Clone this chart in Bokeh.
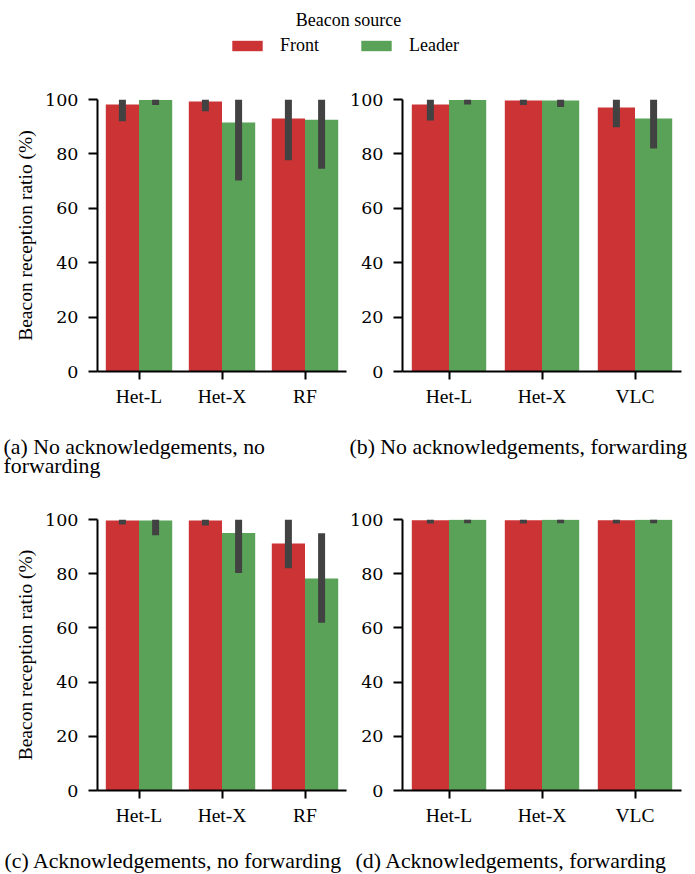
from bokeh.plotting import figure
from bokeh.models import FactorRange, Range1d, FixedTicker, Label, Legend, LegendItem, ColumnDataSource
from bokeh.transform import dodge
from bokeh.layouts import column, row
from bokeh.embed import file_html
from bokeh.resources import INLINE

SERIF = "Liberation Serif"
RED = "#cb3335"
GREEN = "#59a257"
ERR = "#424242"

# ---- data ----
cats_rf = ["Het-L", "Het-X", "RF"]
cats_vlc = ["Het-L", "Het-X", "VLC"]

# (a) No acknowledgements, no forwarding
a_front = [98.2, 99.3, 93.0]
a_front_lo = [92.0, 95.7, 77.7]
a_front_hi = [100.0, 100.0, 100.0]
a_leader = [99.8, 91.5, 92.6]
a_leader_lo = [98.0, 70.2, 74.5]
a_leader_hi = [100.0, 100.0, 100.0]

# (b) No acknowledgements, forwarding
b_front = [98.2, 99.6, 97.1]
b_front_lo = [92.3, 98.0, 89.8]
b_front_hi = [100.0, 100.0, 100.0]
b_leader = [99.8, 99.6, 93.0]
b_leader_lo = [98.2, 97.2, 82.0]
b_leader_hi = [100.0, 100.0, 100.0]

# (c) Acknowledgements, no forwarding
c_front = [99.6, 99.6, 91.1]
c_front_lo = [98.2, 97.8, 82.0]
c_front_hi = [100.0, 100.0, 100.0]
c_leader = [99.6, 95.0, 78.2]
c_leader_lo = [94.2, 80.3, 61.9]
c_leader_hi = [100.0, 100.0, 94.9]

# (d) Acknowledgements, forwarding
d_front = [99.7, 99.7, 99.7]
d_front_lo = [98.5, 98.5, 98.5]
d_front_hi = [100.0, 100.0, 100.0]
d_leader = [99.9, 99.9, 99.9]
d_leader_lo = [98.6, 98.6, 98.6]
d_leader_hi = [100.0, 100.0, 100.0]

y_ticks = [0, 20, 40, 60, 80, 100]
y_label = "Beacon reception ratio (%)"
series_names = ["Front", "Leader"]
legend_title = "Beacon source"

cap_a = ["(a) No acknowledgements, no", "forwarding"]
cap_b = ["(b) No acknowledgements, forwarding"]
cap_c = ["(c) Acknowledgements, no forwarding"]
cap_d = ["(d) Acknowledgements, forwarding"]

CAP_SIZE = "21.8px"


def blank(width, height):
    f = figure(width=width, height=height, x_range=Range1d(0, 1), y_range=Range1d(0, 1),
               output_backend="svg", toolbar_location=None, min_border=0,
               x_axis_type=None, y_axis_type=None)
    f.grid.visible = False
    f.outline_line_color = None
    return f


def panel(cats, fr, fr_lo, fr_hi, ld, ld_lo, ld_hi, width, height,
          mbl, mbr, mbt, mbb, ylabel):
    p = figure(x_range=FactorRange(*cats), y_range=Range1d(0, 100),
               width=width, height=height, output_backend="svg",
               toolbar_location=None, min_border_left=mbl, min_border_right=mbr,
               min_border_top=mbt, min_border_bottom=mbb)
    src = ColumnDataSource(dict(cat=cats, fr=fr, fr_lo=fr_lo, fr_hi=fr_hi,
                                ld=ld, ld_lo=ld_lo, ld_hi=ld_hi))
    xf = dodge("cat", -0.2, range=p.x_range)
    xl = dodge("cat", 0.2, range=p.x_range)
    p.vbar(x=xf, top="fr", width=0.4, source=src, fill_color=RED, line_color=None)
    p.vbar(x=xl, top="ld", width=0.4, source=src, fill_color=GREEN, line_color=None)
    p.segment(x0=xf, x1=xf, y0="fr_lo", y1="fr_hi", source=src,
              line_color=ERR, line_width=7, line_cap="butt")
    p.segment(x0=xl, x1=xl, y0="ld_lo", y1="ld_hi", source=src,
              line_color=ERR, line_width=7, line_cap="butt")

    p.xgrid.visible = False
    p.ygrid.visible = False
    p.outline_line_color = None
    p.x_range.range_padding = 0
    p.yaxis.ticker = FixedTicker(ticks=y_ticks)
    p.yaxis.minor_tick_line_color = None
    for ax in (p.xaxis[0], p.yaxis[0]):
        ax.axis_line_width = 2
        ax.axis_line_color = "black"
        ax.major_tick_line_width = 2
        ax.major_tick_line_color = "black"
        ax.major_tick_in = 0
        ax.major_label_text_color = "black"
    p.yaxis.major_tick_out = 9
    p.xaxis.major_tick_out = 8
    p.yaxis.major_label_text_font = "DejaVu Serif"
    p.yaxis.major_label_text_font_size = "17.5px"
    p.yaxis.major_label_standoff = 10
    p.xaxis.major_label_text_font = SERIF
    p.xaxis.major_label_text_font_size = "19.5px"
    p.xaxis.major_label_standoff = 6
    if ylabel:
        p.yaxis.axis_label = ylabel
        p.yaxis.axis_label_text_font = SERIF
        p.yaxis.axis_label_text_font_size = "19.5px"
        p.yaxis.axis_label_text_font_style = "normal"
        p.yaxis.axis_label_text_color = "black"
        p.yaxis.axis_label_standoff = 6
    return p


def caption(fig, lines, x, y, step=19):
    for i, line in enumerate(lines):
        fig.add_layout(Label(x=x, y=y - step * i, x_units="screen", y_units="screen",
                             text=line, text_font=SERIF, text_font_size=CAP_SIZE,
                             text_baseline="alphabetic", text_color="black"))


# legend strip (page y 0..70)
leg = blank(694, 70)
r1 = leg.vbar(x=[5], top=[1], width=0.4, fill_color=RED, line_color=None)
r2 = leg.vbar(x=[5], top=[1], width=0.4, fill_color=GREEN, line_color=None)
legend = Legend(items=[LegendItem(label=series_names[0], renderers=[r1]),
                       LegendItem(label=series_names[1], renderers=[r2])],
                orientation="horizontal", location=(228, 14),
                glyph_width=38, glyph_height=13, label_standoff=14,
                label_width=50, spacing=27, padding=0, margin=0,
                border_line_color=None, background_fill_alpha=0,
                label_text_font=SERIF, label_text_font_size="18px",
                label_text_color="black", label_height=13)
leg.add_layout(legend)
leg.add_layout(Label(x=348, y=51, x_units="screen", y_units="screen", text=legend_title,
                     text_font=SERIF, text_font_size="18px", text_align="center",
                     text_baseline="alphabetic", text_color="black"))

# top row (page y 70..425); frames at y 99..371
pa = panel(cats_rf, a_front, a_front_lo, a_front_hi, a_leader, a_leader_lo, a_leader_hi,
           347, 355, 97, 1, 29, 54, y_label)
pb = panel(cats_vlc, b_front, b_front_lo, b_front_hi, b_leader, b_leader_lo, b_leader_hi,
           347, 355, 55, 13, 29, 54, None)

# caption strip (page y 425..490)
cap1 = blank(694, 65)
caption(cap1, cap_a, 3, 65 - 21)
caption(cap1, cap_b, 349, 65 - 21)

# bottom row (page y 490..830); frames at y 519..790
pc = panel(cats_rf, c_front, c_front_lo, c_front_hi, c_leader, c_leader_lo, c_leader_hi,
           347, 340, 97, 1, 29, 40, y_label)
pd_ = panel(cats_vlc, d_front, d_front_lo, d_front_hi, d_leader, d_leader_lo, d_leader_hi,
            347, 340, 55, 13, 29, 40, None)

# caption strip (page y 830..873)
cap2 = blank(694, 43)
caption(cap2, cap_c, 4, 13)
caption(cap2, cap_d, 355, 13)

layout = column(leg, row(pa, pb), cap1, row(pc, pd_), cap2)
open("out.html", "w").write(file_html(layout, INLINE))
